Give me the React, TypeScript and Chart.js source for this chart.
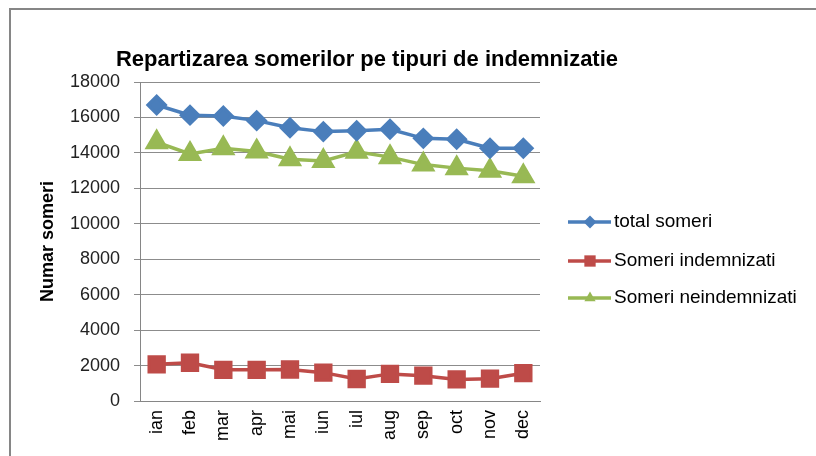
import React, { useEffect, useRef } from "react";
import { Chart, registerables } from "chart.js";

Chart.register(...registerables);

const months = ["ian", "feb", "mar", "apr", "mai", "iun", "iul", "aug", "sep", "oct", "nov", "dec"];
const totalSomeri = [16700, 16130, 16080, 15820, 15420, 15200, 15250, 15330, 14820, 14770, 14260, 14260];
const someriIndemnizati = [2070, 2160, 1760, 1760, 1780, 1600, 1240, 1530, 1430, 1220, 1260, 1570];
const someriNeindemnizati = [14600, 13940, 14260, 14080, 13640, 13540, 14060, 13760, 13340, 13140, 12990, 12680];
const seriesNames = ["total someri", "Someri indemnizati", "Someri neindemnizati"];
const chartTitle = "Repartizarea somerilor pe tipuri de indemnizatie";
const yAxisTitle = "Numar someri";

const FONT = "'Liberation Sans', Arial, sans-serif";

function drawMarker(ctx: CanvasRenderingContext2D, style: string, x: number, y: number, r: number) {
  ctx.beginPath();
  if (style === "rectRot") {
    ctx.moveTo(x, y - r);
    ctx.lineTo(x + r, y);
    ctx.lineTo(x, y + r);
    ctx.lineTo(x - r, y);
  } else if (style === "rect") {
    const s = r * Math.SQRT1_2;
    ctx.rect(x - s, y - s, 2 * s, 2 * s);
  } else {
    ctx.moveTo(x, y - r);
    ctx.lineTo(x + r * 0.866, y + r / 2);
    ctx.lineTo(x - r * 0.866, y + r / 2);
  }
  ctx.closePath();
  ctx.fill();
}

const framePlugin = {
  id: "frame",
  beforeDraw(chart: any) {
    const ctx = chart.ctx;
    ctx.save();
    ctx.fillStyle = "#ffffff";
    ctx.fillRect(0, 0, chart.width, chart.height);
    ctx.strokeStyle = "#868686";
    ctx.lineWidth = 2;
    ctx.beginPath();
    ctx.moveTo(10, chart.height + 5);
    ctx.lineTo(10, 9);
    ctx.lineTo(chart.width + 5, 9);
    ctx.stroke();
    ctx.restore();
  },
  afterDraw(chart: any) {
    const ctx = chart.ctx;
    ctx.save();
    ctx.fillStyle = "#000000";
    ctx.font = `bold 22px ${FONT}`;
    ctx.textAlign = "center";
    ctx.textBaseline = "alphabetic";
    ctx.fillText(chartTitle, 367, 66, 502);
    const ys = [222, 261, 298];
    chart.data.datasets.forEach((ds: any, i: number) => {
      const y = ys[i];
      ctx.strokeStyle = ds.borderColor;
      ctx.lineWidth = 3.5;
      ctx.beginPath();
      ctx.moveTo(568, y);
      ctx.lineTo(611, y);
      ctx.stroke();
      ctx.fillStyle = ds.pointBackgroundColor;
      drawMarker(ctx, ds.pointStyle, 590, y, ds.pointStyle === "rect" ? 8 : 6.5);
      ctx.fillStyle = "#000000";
      ctx.font = `19px ${FONT}`;
      ctx.textAlign = "left";
      ctx.textBaseline = "middle";
      ctx.fillText(ds.label, 614, y);
    });
    ctx.restore();
  },
};

export default function App() {
  const ref = useRef<HTMLCanvasElement | null>(null);
  useEffect(() => {
    if (!ref.current) return;
    const chart = new Chart(ref.current, {
      type: "line",
      data: {
        labels: months,
        datasets: [
          {
            label: seriesNames[0],
            data: totalSomeri,
            borderColor: "#4a7ebb",
            backgroundColor: "#4a7ebb",
            pointBackgroundColor: "#4a7ebb",
            pointBorderColor: "#4a7ebb",
            pointStyle: "rectRot",
            pointRadius: 8.5,
            borderWidth: 3.5,
          },
          {
            label: seriesNames[1],
            data: someriIndemnizati,
            borderColor: "#be4b48",
            backgroundColor: "#be4b48",
            pointBackgroundColor: "#be4b48",
            pointBorderColor: "#be4b48",
            pointStyle: "rect",
            pointRadius: 10.5,
            borderWidth: 3.5,
          },
          {
            label: seriesNames[2],
            data: someriNeindemnizati,
            borderColor: "#98b954",
            backgroundColor: "#98b954",
            pointBackgroundColor: "#98b954",
            pointBorderColor: "#98b954",
            pointStyle: "triangle",
            pointRadius: 10.5,
            borderWidth: 3.5,
          },
        ],
      },
      options: {
        responsive: false,
        animation: false,
        layout: { padding: { left: 0, right: 276, top: 82, bottom: 0 } },
        plugins: {
          legend: { display: false },
          title: { display: false },
          tooltip: { enabled: false },
        },
        scales: {
          x: {
            offset: true,
            grid: { display: false, drawTicks: false },
            border: { display: true, color: "#868686", width: 1 },
            ticks: {
              minRotation: 90,
              maxRotation: 90,
              padding: 9,
              color: "#000000",
              font: { family: FONT, size: 18 },
            },
            afterFit(scale: any) {
              scale.height = 55;
            },
          },
          y: {
            min: 0,
            max: 18000,
            grid: { color: "#8c8c8c", tickLength: 6, lineWidth: 1 },
            border: { display: true, color: "#868686", width: 1 },
            ticks: {
              stepSize: 2000,
              padding: 14,
              color: "#222222",
              font: { family: FONT, size: 18 },
              callback: (v: any) => String(v),
            },
            title: {
              display: true,
              text: yAxisTitle,
              color: "#000000",
              font: { family: FONT, size: 18, weight: "bold" },
              padding: { top: 37, bottom: 0 },
            },
            afterFit(scale: any) {
              scale.width = 140;
            },
          },
        },
      },
      plugins: [framePlugin],
    });
    return () => chart.destroy();
  }, []);
  return (
    <div style={{ position: "absolute", left: 0, top: 0, width: 816, height: 456 }}>
      <canvas ref={ref} width={816} height={456} style={{ width: 816, height: 456, display: "block" }} />
    </div>
  );
}
